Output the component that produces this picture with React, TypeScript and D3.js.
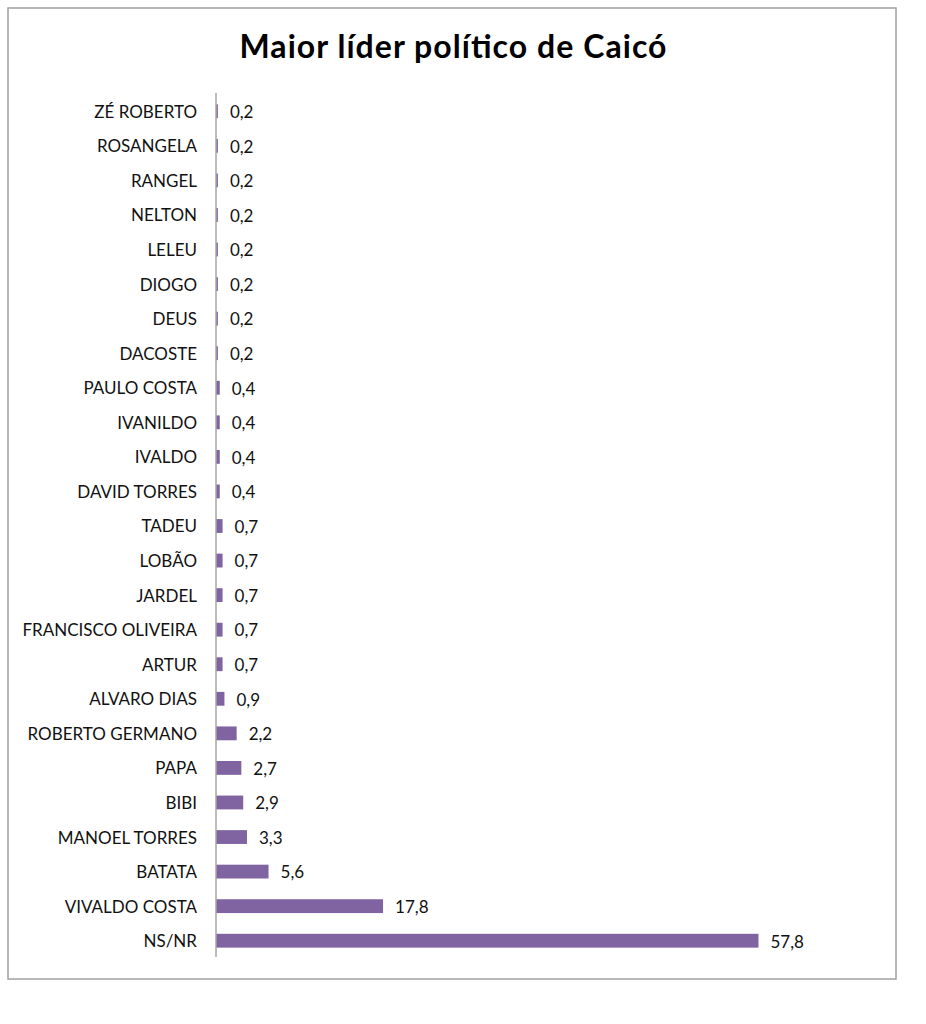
import * as d3 from 'd3'

const CATEGORIES = [
  'ZÉ ROBERTO', 'ROSANGELA', 'RANGEL', 'NELTON', 'LELEU', 'DIOGO', 'DEUS', 'DACOSTE',
  'PAULO COSTA', 'IVANILDO', 'IVALDO', 'DAVID TORRES', 'TADEU', 'LOBÃO', 'JARDEL',
  'FRANCISCO OLIVEIRA', 'ARTUR', 'ALVARO DIAS', 'ROBERTO GERMANO', 'PAPA', 'BIBI',
  'MANOEL TORRES', 'BATATA', 'VIVALDO COSTA', 'NS/NR',
]
const VALUES = [
  0.2, 0.2, 0.2, 0.2, 0.2, 0.2, 0.2, 0.2,
  0.4, 0.4, 0.4, 0.4, 0.7, 0.7, 0.7,
  0.7, 0.7, 0.9, 2.2, 2.7, 2.9,
  3.3, 5.6, 17.8, 57.8,
]
const TITLE = 'Maior líder político de Caicó'

const W = 926
const H = 1024
const PLOT = { left: 216, right: 873, top: 93, bottom: 957 }
const BAR = '#8064A2'
const AXIS = '#a6a6a6'
const FONT = "Lato, 'Open Sans', sans-serif"

const fmt = (v: number) => d3.format('.1f')(v).replace('.', ',')

export default function App() {
  const x = d3.scaleLinear().domain([0, 70]).range([PLOT.left, PLOT.right])
  // bands nudged 1px down from the axis extent, as in the reference
  const y = d3.scaleBand<string>()
    .domain(CATEGORIES)
    .range([PLOT.top + 1, PLOT.bottom + 1])
    .paddingInner(0.6)
    .paddingOuter(0.3)

  return (
    <svg
      width={W}
      height={H}
      style={{ position: 'absolute', left: 0, top: 0, background: '#fff' }}
      fontFamily={FONT}
    >
      <rect x={8} y={8} width={888} height={971} fill="#fff" stroke="#a0a0a0" strokeWidth={1.5} />
      <text x={453} y={58} textAnchor="middle" fontSize={32} fontWeight={700} fill="#000"
        textLength={427} lengthAdjust="spacing">
        {TITLE}
      </text>

      {CATEGORIES.map((c, i) => {
        const yc = (y(c) ?? 0) + y.bandwidth() / 2
        const v = VALUES[i]
        return (
          <g key={c}>
            <rect x={x(0)} y={y(c)} width={x(v) - x(0)} height={y.bandwidth()} fill={BAR} />
            <text x={PLOT.left - 19} y={yc} dy="0.38em" textAnchor="end" fontSize={17} fill="#111">
              {c}
            </text>
            <text x={x(v) + 12} y={yc} dy="0.4em" fontSize={17} fill="#111">
              {fmt(v)}
            </text>
          </g>
        )
      })}

      <line x1={x(0)} x2={x(0)} y1={PLOT.top} y2={PLOT.bottom} stroke={AXIS} strokeWidth={1.5} />
    </svg>
  )
}
